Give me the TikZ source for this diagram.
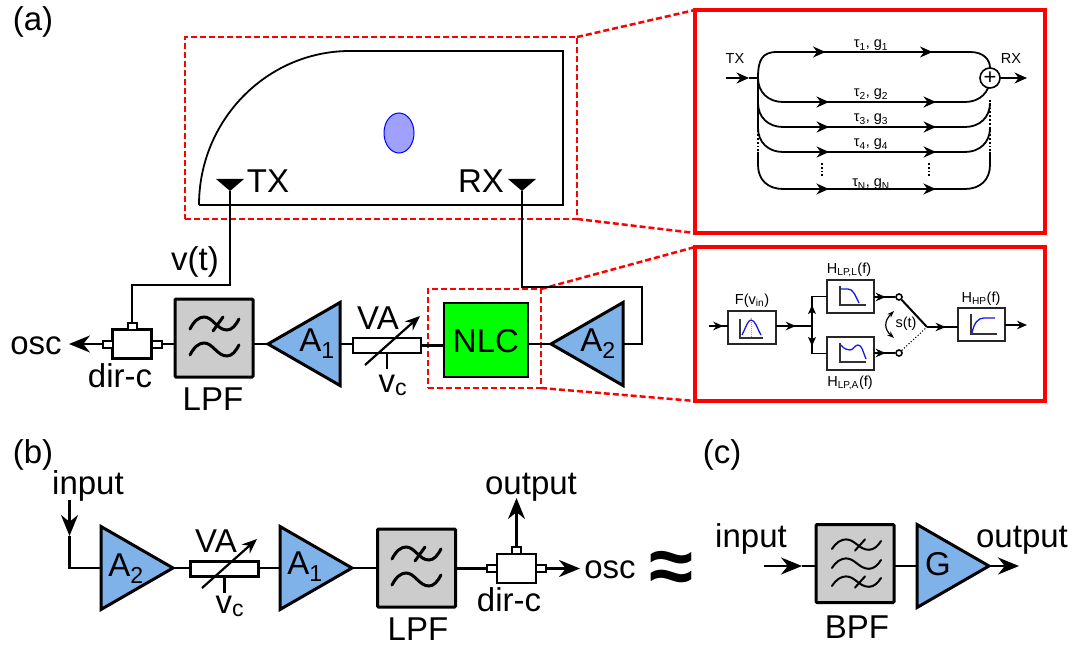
\documentclass[tikz,border=0pt]{standalone}
\usepackage{fontspec}
\setmainfont{Liberation Sans}
\usepackage{xcolor}
\usetikzlibrary{arrows.meta,positioning,shapes.geometric,calc,decorations.markings}
\definecolor{ampblue}{HTML}{7FB2E9}
\definecolor{filtergray}{HTML}{CCCCCC}
\definecolor{nlcgreen}{HTML}{00FF00}
\definecolor{zoomred}{HTML}{FF0000}
\definecolor{targetfill}{HTML}{A0A0FF}
\definecolor{curveblue}{HTML}{1A1AE6}
\newcommand{\subtxt}[1]{\textsubscript{#1}}
\tikzset{
  bigtip/.tip={Stealth[length=21pt,width=17pt]},
  midtip/.tip={Stealth[length=12.5pt,width=11pt]},
  tinytip/.tip={Stealth[length=10pt,width=8.5pt]},
  bigtext/.style={font=\fontsize{33}{36}\selectfont, anchor=base, inner sep=0pt},
  smalltext/.style={font=\fontsize{14.5}{16}\selectfont, anchor=base, inner sep=0pt},
  wire/.style={line width=2.6pt, draw=black},
  thinwire/.style={line width=1.8pt, draw=black},
  bigarrow/.style={wire, -{bigtip}},
  filterbox/.style={draw=black, fill=filtergray, line width=3pt, rounded corners=1pt, minimum width=78pt, minimum height=78pt, inner sep=0pt, outer sep=0pt},
  ampleft/.style={isosceles triangle, isosceles triangle stretches, shape border rotate=180, draw=black, fill=ampblue, line width=3pt, line join=miter, minimum width=83pt, minimum height=72pt, inner sep=0pt, outer sep=0pt, anchor=apex},
  ampright/.style={ampleft, shape border rotate=0},
  attbox/.style={draw=black, fill=white, line width=2.5pt, minimum width=68pt, minimum height=15pt, inner sep=0pt, outer sep=0pt},
  tunearrow/.style={line width=2.2pt, -{Stealth[length=15pt,width=12pt]}},
  couplerbody/.style={draw=black, fill=white, line width=2.2pt, minimum width=39pt, minimum height=29pt, inner sep=0pt, outer sep=0pt},
  couplerstub/.style={draw=black, fill=white, line width=2pt, minimum width=10pt, minimum height=7pt, inner sep=0pt, outer sep=0pt},
  couplertop/.style={couplerstub, minimum width=9pt},
  antenna/.style={isosceles triangle, isosceles triangle stretches, shape border rotate=-90, fill=black, minimum width=28pt, minimum height=12pt, inner sep=0pt, outer sep=0pt, anchor=apex},
  zoomframe/.style={draw=zoomred, line width=4pt},
  zoomdash/.style={draw=zoomred, line width=2.5pt, dash pattern=on 6pt off 3pt},
  insetbox/.style={draw=black!85, fill=white, line width=1.6pt, minimum width=47pt, minimum height=33pt, inner sep=0pt, outer sep=0pt},
  contact/.style={circle, draw=black, fill=white, line width=1.6pt, minimum size=6pt, inner sep=0pt},
  curveline/.style={draw=curveblue, line width=1.3pt},
  axisline/.style={draw=black!80, line width=1.3pt},
  midmark/.style={postaction={decorate}, decoration={markings, mark=at position #1 with {\arrow{tinytip}}}},
  twomarks/.style 2 args={thinwire, postaction={decorate}, decoration={markings, mark=at position #1pt with {\arrow{midtip}}, mark=at position #2pt with {\arrow{midtip}}}},
  swing/.pic={\draw[line width=#1, line cap=round] (0,0) .. controls (4,-8) and (9,-12) .. (14,-12) .. controls (23,-12) and (27,1) .. (37,1) .. controls (42,1) and (46,-4) .. (49,-10);},
  swingcut/.pic={\draw[line width=#1, line cap=round] (0,0) .. controls (4,-8) and (9,-12) .. (14,-12) .. controls (23,-12) and (27,1) .. (37,1) .. controls (42,1) and (46,-4) .. (49,-10);
    \draw[line width=#1, line cap=round] (23,2) -- (33,-12);}
}
\begin{document}
\begin{tikzpicture}[x=1pt,y=-1pt]
  \useasboundingbox (0,0) rectangle (1076,647);
  \node[bigtext] (labela) at (33,31) {(a)};
  \node[bigtext] (labelb) at (33,463) {(b)};
  \node[bigtext] (labelc) at (722,463) {(c)};

  \node[zoomdash, minimum width=392pt, minimum height=182pt, inner sep=0pt, outer sep=0pt] (roomzoom) at (381,128) {};
  \node[zoomdash, minimum width=113pt, minimum height=99pt, inner sep=0pt, outer sep=0pt] (nlczoom) at (484.5,338.5) {};
  \node[zoomframe, minimum width=350pt, minimum height=223pt, inner sep=0pt, outer sep=0pt] (chanbox) at (870,121.5) {};
  \node[zoomframe, minimum width=350pt, minimum height=154pt, inner sep=0pt, outer sep=0pt] (nlcbox) at (870,324) {};
  \draw[zoomdash] (roomzoom.north east) -- (chanbox.north west);
  \draw[zoomdash] (roomzoom.south east) -- (chanbox.south west);
  \draw[zoomdash] (nlczoom.north east) -- (nlcbox.north west);
  \draw[zoomdash] (nlczoom.south east) -- (nlcbox.south west);

  \draw[line width=1.8pt] (199,205) -- (563,205) -- (563,51) -- (350,51) .. controls (267,51) and (199,120) .. (199,205);
  \node[ellipse, draw=blue, fill=targetfill, line width=1pt, minimum width=30pt, minimum height=40pt, inner sep=0pt] (target) at (399,133) {};
  \node[antenna] (txant) at (230,191) {};
  \node[antenna] (rxant) at (522,191) {};
  \node[bigtext] (txlab) at (268,193) {TX};
  \node[bigtext] (rxlab) at (481,193) {RX};
  \node[bigtext] (vlab) at (195,270) {v(t)};

  \node[couplerbody] (dcone) at (132,344) {};
  \node[couplerstub, left=0pt of dcone] (dconel) {};
  \node[couplerstub, right=0pt of dcone] (dconer) {};
  \node[couplertop, above=0pt of dcone] (dconet) {};
  \node[filterbox] (lpfone) at (214,338) {};
  \pic at (190,329) {swingcut=3pt};
  \pic at (190,355) {swing=3pt};
  \node[ampleft] (aone) at (268,344) {};
  \node[attbox] (vaone) at (387,345.5) {};
  \node[draw=black, fill=nlcgreen, line width=2.5pt, minimum width=84pt, minimum height=74pt, inner sep=0pt, outer sep=0pt] (nlc) at (486,340) {};
  \node[ampleft] (atwo) at (551,344) {};
  \node[bigtext] (nlclab) at (486,352) {NLC};
  \node[bigtext] (aonelab) at (317,351) {A\subtxt{1}};
  \node[bigtext] (atwolab) at (598,351) {A\subtxt{2}};
  \node[bigtext] (valab) at (378,329) {VA};
  \node[bigtext] (vclab) at (393,392) {v\subtxt{c}};
  \node[bigtext] (osclab) at (36,354) {osc};
  \node[bigtext] (dclab) at (120,387) {dir-c};
  \node[bigtext] (lpflab) at (213,410) {LPF};
  \coordinate (osctip) at (69,344);
  \draw[bigarrow] (dconel) -- (osctip);
  \draw[wire] (txant.apex) -- ++(0,94) -| (dconet.north);
  \draw[wire] (dconer.east) -- (lpfone.west |- dconer.east);
  \draw[wire] (lpfone.east |- aone.apex) -- (aone.apex);
  \draw[wire] (aone.east) -- (vaone.west |- aone.east);
  \draw[wire] (vaone.east) -- (nlc.west |- vaone.east);
  \draw[wire] (nlc.east |- atwo.apex) -- (atwo.apex);
  \draw[wire] (atwo.east) -- ++(19,0) -- ++(0,-57) -| (rxant.apex);
  \draw[tunearrow] ($(vaone.center)+(-22,19.5)$) -- ($(vaone.center)+(33,-29.5)$);
  \draw[wire] (vaone.south) -- ++(0,16);

  \node[smalltext] (chantx) at (735,64) {TX};
  \node[smalltext] (chanrx) at (1011,64) {RX};
  \node[smalltext] (tauone) at (871,48) {τ\subtxt{1}, g\subtxt{1}};
  \node[smalltext] (tautwo) at (871,97) {τ\subtxt{2}, g\subtxt{2}};
  \node[smalltext] (tauthree) at (871,122) {τ\subtxt{3}, g\subtxt{3}};
  \node[smalltext] (taufour) at (871,147) {τ\subtxt{4}, g\subtxt{4}};
  \node[smalltext] (taun) at (871,187) {τ\subtxt{N}, g\subtxt{N}};
  \coordinate (chanin) at (726,78);
  \coordinate (chanhead) at (749,78);
  \coordinate (jtx) at (758,78);
  \coordinate (chanout) at (1027,78);
  \node[circle, minimum size=20pt, inner sep=0pt, outer sep=0pt] (sum) at (990,78) {};
  \draw[thinwire, dotted] (758,100) -- (758,152);
  \draw[thinwire, dotted] (990,100) -- (990,152);
  \draw[twomarks={86}{193}] (jtx) .. controls (758,60) and (762,52) .. (777,52) -- (970,52) .. controls (984,52) and (990,60) .. (sum.north);
  \foreach \ylev/\tipa/\tipb in {102/85/192, 127/110/217, 152/135/242}
    \draw[twomarks={\tipa}{\tipb}] (jtx) -- (758,\ylev-24) .. controls (758,\ylev-10) and (768,\ylev) .. (783,\ylev) -- (965,\ylev) .. controls (980,\ylev) and (990,\ylev-10) .. (990,\ylev-24);
  \draw[twomarks={98}{205}] (758,152) -- (758,165) .. controls (758,180) and (768,189) .. (783,189) -- (965,189) .. controls (980,189) and (990,180) .. (990,165) -- (990,152);
  \draw[thinwire, -{midtip}] (chanin) -- (chanhead);
  \draw[thinwire] (chanhead) -- (jtx);
  \node[circle, draw=black, fill=white, line width=1.6pt, minimum size=20pt, inner sep=0pt, outer sep=0pt, font=\fontsize{22}{22}\selectfont] (sumsign) at (sum) {+};
  \draw[thinwire, -{midtip}] (sumsign.east) -- (chanout);
  \foreach \xdot in {822,929}
    \draw[thinwire, dotted] (\xdot,163) -- (\xdot,176);

  \node[insetbox, minimum height=33pt, minimum width=48pt] (fbox) at (752,327.5) {};
  \node[insetbox] (hlpl) at (850.5,296.5) {};
  \node[insetbox] (hlpa) at (850.5,353.5) {};
  \node[insetbox] (hhp) at (981.5,324.5) {};
  \node[smalltext] (flab) at (752,304) {F(v\subtxt{in})};
  \node[smalltext] (hlpllab) at (849,273) {H\subtxt{LP,L}(f)};
  \node[smalltext] (hlpalab) at (850,386) {H\subtxt{LP,A}(f)};
  \node[smalltext] (hhplab) at (981,302) {H\subtxt{HP}(f)};
  \node[smalltext] (slab) at (906,327) {s(t)};
  \node[contact] (conl) at (899,297) {};
  \node[contact] (cona) at (899,353) {};
  \coordinate (nlcin) at (709,326);
  \coordinate (split) at (812,326);
  \coordinate (swout) at (927,327);
  \coordinate (nlcout) at (1027,325);
  \draw[thinwire, midmark=0.75] (nlcin) -- (fbox.west |- nlcin);
  \draw[thinwire, midmark=0.55] (fbox.east |- split) -- (split);
  \draw[thinwire] (hlpl.west) -| (split);
  \draw[thinwire] (hlpa.west) -| (split);
  \fill (812,305) -- (816,314) -- (812,312) -- (808,314) -- cycle;
  \fill (812,346) -- (816,337) -- (812,339) -- (808,337) -- cycle;
  \draw[thinwire, midmark=0.55] (hlpl.east |- conl) -- (conl);
  \draw[thinwire, midmark=0.55] (hlpa.east |- cona) -- (cona);
  \draw[line width=2pt] (conl) -- (swout);
  \draw[line width=1.1pt, dotted] (cona) -- (swout);
  \draw[thinwire, midmark=0.6] (swout) -- (hhp.west |- swout);
  \draw[thinwire, -{tinytip}] (hhp.east |- nlcout) -- (nlcout);
  \draw[line width=1.2pt, {Stealth[length=7pt,width=5pt]}-{Stealth[length=7pt,width=5pt]}] (894,311) .. controls (884,321) and (884,329) .. (894,338);
  \draw[axisline] (740,319) -- (740,338) -- (763,338);
  \draw[draw=black!40, line width=1pt, densely dotted] (751,318) -- (751,338);
  \draw[curveline] (742,335) .. controls (746,327) and (748,320) .. (751,320) .. controls (755,320) and (757,328) .. (761,335);
  \draw[axisline] (840,286) -- (840,305) -- (866,305);
  \draw[curveline] (841,289) -- (848,289) .. controls (853,289) and (855,295) .. (859,303);
  \draw[axisline] (840,343) -- (840,362) -- (866,362);
  \draw[curveline] (841,345) .. controls (844,349) and (847,350) .. (850,350) .. controls (853,350) and (855,345) .. (858,345) .. controls (862,345) and (863,352) .. (866,359);
  \draw[axisline] (971,314) -- (971,334) -- (997,334);
  \draw[curveline] (972,333) .. controls (974,323) and (978,318) .. (984,318) -- (995,318);

  \node[bigtext] (inputb) at (88,494) {input};
  \node[bigtext] (outputb) at (531,494) {output};
  \coordinate (inputtip) at (69.5,500);
  \coordinate (inputhead) at (69.5,536);
  \coordinate (inputbend) at (69.5,568);
  \node[ampright, anchor=west] (atwob) at (101,568) {};
  \node[attbox] (vab) at (224.5,569) {};
  \node[ampright, anchor=west] (aoneb) at (280,568) {};
  \node[filterbox] (lpfb) at (416.5,568) {};
  \pic at (392,559) {swingcut=3pt};
  \pic at (392,585) {swing=3pt};
  \node[couplerbody] (dcb) at (516.5,568.5) {};
  \node[couplerstub, left=0pt of dcb] (dcbl) {};
  \node[couplerstub, right=0pt of dcb] (dcbr) {};
  \node[couplertop, above=0pt of dcb] (dcbt) {};
  \coordinate (outbtip) at (516.5,498);
  \coordinate (oscbtip) at (580,568.5);
  \node[bigtext] (atwoblab) at (126,576) {A\subtxt{2}};
  \node[bigtext] (aoneblab) at (305,574) {A\subtxt{1}};
  \node[bigtext] (vablab) at (216,552) {VA};
  \node[bigtext] (vcblab) at (230,613) {v\subtxt{c}};
  \node[bigtext] (lpfblab) at (418,640) {LPF};
  \node[bigtext] (dcblab) at (509,611) {dir-c};
  \node[bigtext] (oscblab) at (610,578) {osc};
  \node[font=\fontsize{80}{80}\selectfont\bfseries, inner sep=0pt] (approxsign) at (671,572) {≈};
  \draw[bigarrow] (inputtip) -- (inputhead);
  \draw[wire] (inputhead) -- (inputbend) -- (atwob.west |- inputbend);
  \draw[wire] (atwob.apex) -- (vab.west |- atwob.apex);
  \draw[wire] (vab.east |- aoneb.west) -- (aoneb.west);
  \draw[wire] (aoneb.apex) -- (lpfb.west |- aoneb.apex);
  \draw[wire] (lpfb.east |- dcbl.west) -- (dcbl.west);
  \draw[bigarrow] (dcbt.north) -- (outbtip);
  \draw[bigarrow] (dcbr.east) -- (oscbtip);
  \draw[tunearrow] ($(vab.center)+(-22.5,19)$) -- ($(vab.center)+(32.5,-30)$);
  \draw[wire] (vab.south) -- ++(0,16);

  \node[bigtext] (inputc) at (751,547) {input};
  \node[bigtext] (outputc) at (1022,547) {output};
  \node[bigtext] (bpflab) at (857,638) {BPF};
  \coordinate (bpfin) at (764,566);
  \coordinate (bpfhead) at (802,566);
  \coordinate (gout) at (1019,566);
  \node[filterbox] (bpf) at (855,563.5) {};
  \pic[yscale=0.8] at (832,549) {swingcut=2pt};
  \pic[yscale=0.8] at (832,568) {swing=2pt};
  \pic[yscale=0.8] at (832,586) {swingcut=2pt};
  \node[ampright, anchor=west] (gamp) at (917,566) {};
  \node[bigtext] (glab) at (938,575) {G};
  \draw[bigarrow] (bpfin) -- (bpfhead);
  \draw[wire] (bpfhead) -- (bpf.west |- bpfhead);
  \draw[wire] (bpf.east |- gamp.west) -- (gamp.west);
  \draw[bigarrow] (gamp.apex) -- (gout);
\end{tikzpicture}
\end{document}
